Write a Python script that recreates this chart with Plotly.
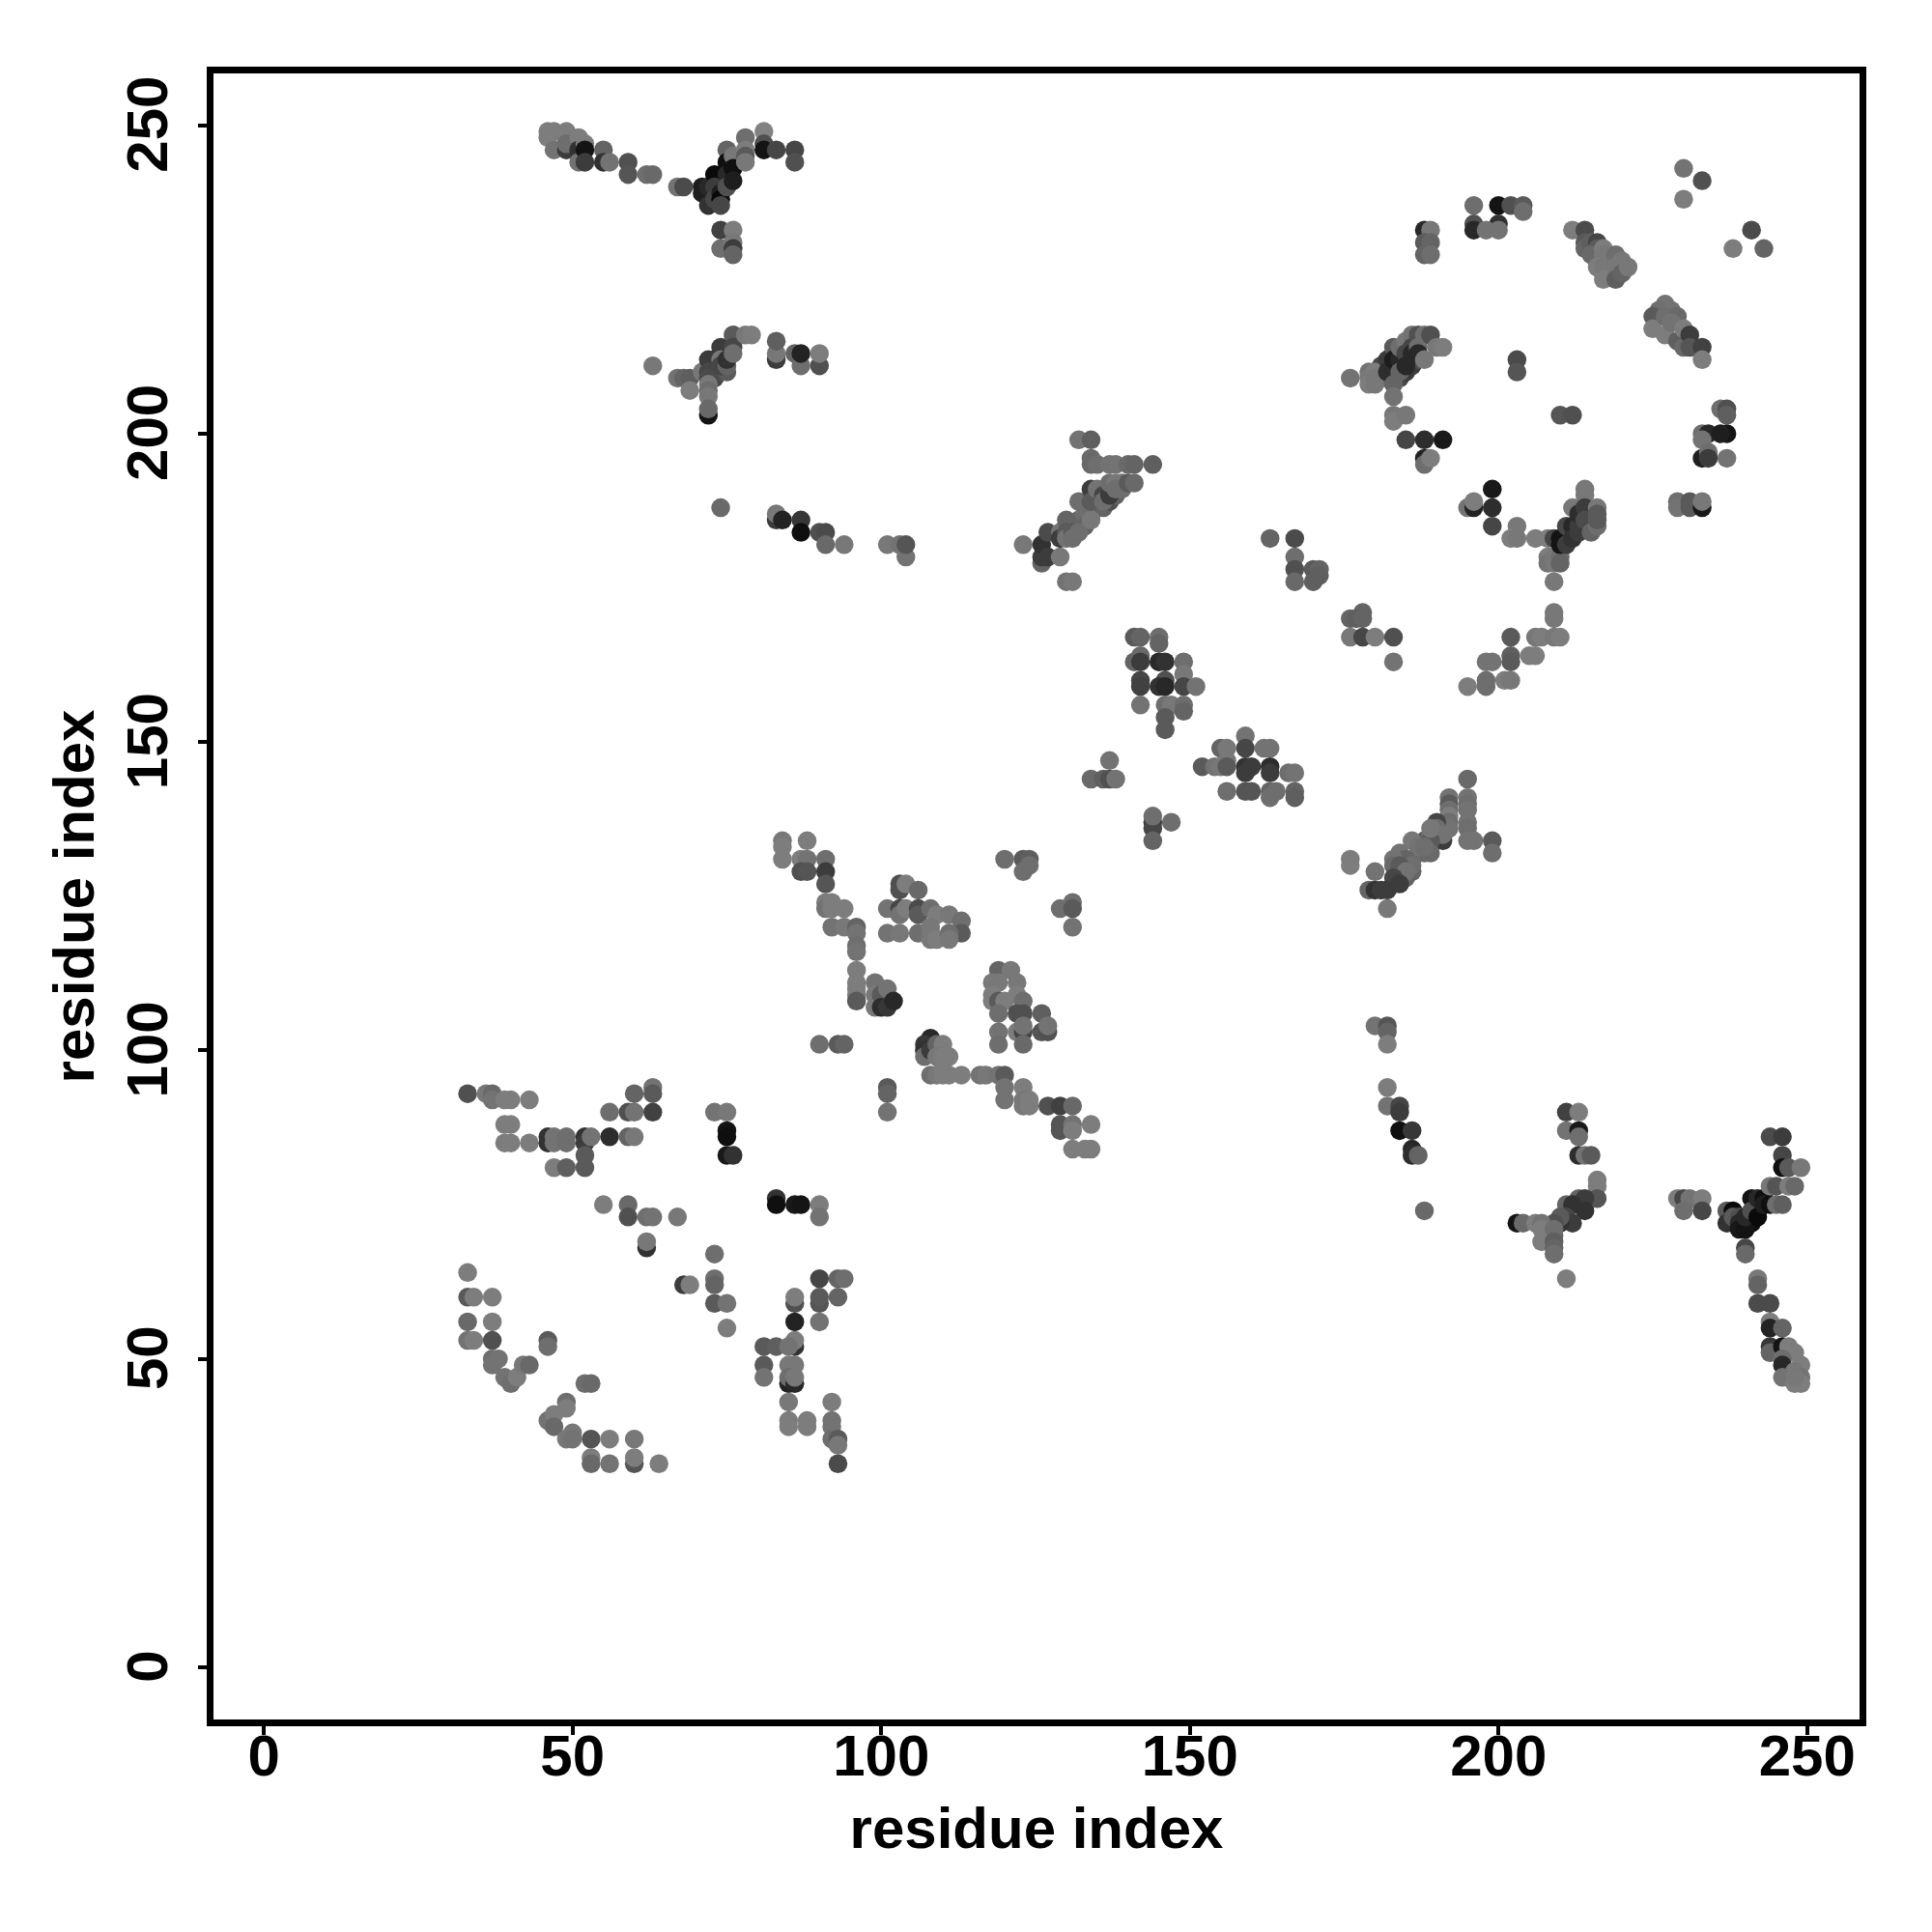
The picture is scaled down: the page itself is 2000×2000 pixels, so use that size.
import plotly.graph_objects as go

# top-left arm near (75, 240)
arm_top_x = [46,46,47,47,49,49,49,49,51,51,51,52,52,52,55,55,56,59,59,62,63,67,68,71,71,72,72,73,73,73,74,74,74,75,75,75,75,76,76,76,78,78,78,78,81,81,81,83,86,86,74,76,74,76,76,76]
arm_top_y = [249,248,246,249,249,248,246,247,248,246,244,247,246,244,246,244,244,244,242,242,242,240,240,240,239,240,237,242,240,238,239,238,237,246,244,242,240,245,243,241,248,246,245,244,249,247,246,246,246,244,233,233,230,231,230,229]
arm_top_s = [125,125,115,125,125,125,60,110,125,50,115,125,20,60,100,50,115,80,85,110,105,115,75,30,30,40,50,10,60,70,30,10,70,100,15,40,80,120,15,30,110,125,90,120,130,80,20,70,70,80,65,125,110,120,60,100]

# arm near (75, 210)
fill_210_x = [73,73,73,73,74,75,75]
fill_210_y = [212,211,210,209,210,213,210]
fill_210_s = [50,60,50,70,80,60,90]
arm_210_x = [63,67,68,69,69,71,72,72,72,72,72,72,72,72,74,74,74,75,75,76,76,76,78,79,83,83,83,86,87,87,90,90]
arm_210_y = [211,209,209,209,207,210,212,210,209,208,207,206,203,204,214,212,211,211,212,216,214,213,216,216,212,213,215,213,211,213,211,213]
arm_210_s = [120,115,100,95,125,120,60,70,75,120,110,120,20,105,60,120,70,100,50,90,70,110,120,125,60,120,95,100,110,35,80,125]

# row near y = 185
row_185_x = [74,83,83,84,87,87,90,91,91,94,101,103,104,104]
row_185_y = [188,186,187,186,186,184,184,184,182,182,182,182,180,182]
row_185_s = [105,60,120,35,55,15,80,75,105,120,120,115,115,85]

# central left block, first chain
chain_a_x = [84,84,84,88,87,88,87,88,91,91,91,91,91,92,92,94,92,94,96,96,96,96,96,96,96,96,96,99,99,99,100,100,101,101,102]
chain_a_y = [134,133,131,134,131,131,129,129,131,129,127,124,123,124,123,123,120,120,120,119,117,116,113,111,110,109,108,111,109,107,109,107,110,107,108]
chain_a_s = [120,125,125,125,125,115,80,85,110,60,85,125,115,125,125,125,115,120,100,115,110,115,125,125,125,125,90,115,120,120,90,45,115,55,40]

# central left block, second chain
block_b_x = [103,103,104,106,101,103,103,104,106,106,108,109,111,113,101,103,106,108,108,108,109,113,111,111]
block_b_y = [127,126,127,126,123,123,122,123,123,122,123,122,122,121,119,119,119,120,119,118,118,119,119,118]
block_b_s = [80,80,125,105,115,70,115,125,75,90,110,125,120,110,115,120,110,120,120,120,125,90,110,120]

side_c_x = [120,123,124,123,124,129,131,131,131]
side_c_y = [131,131,131,129,130,123,124,123,120]
side_c_s = [110,90,95,110,110,110,110,90,115]

block_d_x = [119,121,118,119,122,118,118,119,120,122,123,119,122,123,126,119,119,122,123,123,123,126,127,127]
block_d_y = [113,113,111,111,111,109,108,108,108,109,108,106,106,106,106,103,101,103,103,104,101,103,103,104]
block_d_s = [100,120,120,120,120,125,125,90,125,125,110,110,80,80,95,115,110,125,70,115,105,85,80,115]

low_e_x = [90,93,94,101,101,101]
low_e_y = [101,101,101,94,93,90]
low_e_s = [110,90,100,90,100,115]

diag_f_x = [108,107,107,107,108,109,110,109,110,111,108,109,110,110,111,113,116,117,119,120,120,120,123,123,123,124,124,127,129,131,129,129,131,131,134,131,133,134]
diag_f_y = [102,101,100,99,100,101,101,99,99,99,96,96,97,96,96,96,96,96,96,96,94,92,94,92,91,92,91,91,91,91,88,87,88,87,88,84,84,84]
diag_f_s = [40,55,50,110,60,100,125,120,125,125,110,120,125,125,125,125,115,120,115,90,115,115,125,120,120,125,125,80,65,105,85,85,115,125,125,125,125,125]

# diagonal near (132, 187)
fill_g_x = [130,131,132,133,134,135,136,133,137,138,139,139]
fill_g_y = [185,185,186,187,187,188,188,185,189,190,191,192]
fill_g_s = [100,110,105,110,100,110,100,100,80,100,110,115]
diag_g_x = [132,134,134,134,135,137,138,140,141,144,123,126,126,126,127,127,129,130,131,129,129,130,130,130,131,131,132,132,133,134,134,134,135,136,136,137,137,138,138,140,141]
diag_g_y = [199,199,196,195,195,195,195,195,195,195,182,179,180,182,184,180,180,176,176,184,183,186,184,183,184,183,184,189,188,186,191,189,191,190,189,190,192,192,191,192,192]
diag_g_s = [115,95,105,105,110,115,115,105,100,95,120,100,60,50,75,60,120,115,120,115,60,100,90,115,90,110,110,110,110,120,60,90,115,70,110,60,110,120,110,90,105]

# block near (146, 160)
block_h_x = [141,142,145,145,141,142,142,145,146,149,149,142,142,146,145,146,149,151,142,146,147,149,149,146,146]
block_h_y = [167,167,167,166,163,164,163,163,163,163,161,160,159,160,159,159,159,159,156,156,156,156,155,154,152]
block_h_s = [90,100,110,100,100,105,60,40,50,110,120,70,65,80,50,40,70,115,115,110,120,110,100,90,90]

# block near (160, 146)
block_i_x = [152,154,155,156,156,155,156,159,159,159,160,159,156,159,160,162,163,163,163,163,164,163,166,167,167,167]
block_i_y = [146,146,149,149,147,146,146,151,149,146,146,145,142,142,142,149,149,146,145,142,142,141,145,145,142,141]
block_i_s = [90,115,100,120,120,120,90,115,70,50,60,60,110,85,85,115,115,45,60,100,110,110,110,115,100,95]

small_j_x = [134,136,137,138,137,144,144,144,144,147]
small_j_y = [144,144,144,144,147,137,136,138,134,137]
small_j_s = [105,95,80,115,115,60,70,110,100,110]

# diagonal near (185, 130)
fill_k_x = [184,185,185,186,187,188,188,189,190,191,186]
fill_k_y = [128,128,130,131,132,132,134,135,135,136,129]
fill_k_s = [100,100,110,115,115,105,90,110,100,110,100]
diag_k_x = [195,192,192,195,195,195,195,195,195,196,199,199,192,192,192,192,190,190,191,191,189,189,189,186,187,188,184,185,186,183,183,184,185,183,183,184,182,180,176,176,179,180,181,182]
diag_k_y = [144,141,140,141,140,139,137,136,134,134,134,132,139,138,137,136,137,136,134,135,134,136,132,134,133,133,132,131,130,131,130,130,129,128,127,127,126,129,131,130,126,126,126,123]
diag_k_s = [105,115,90,115,110,115,115,110,115,115,90,110,110,125,110,115,70,110,60,115,90,120,105,120,115,110,115,100,110,115,105,90,115,70,70,60,60,115,125,125,100,50,60,120]

# upper right groups
ring_l_x = [196,200,202,204,204,200,196,196,198,200,188,189,188,189,188,189,230,233,230,241,238,243]
ring_l_y = [237,237,237,237,236,234,234,233,233,233,233,233,231,231,229,229,243,241,238,233,230,230]
ring_l_s = [110,20,80,90,110,50,80,40,115,115,40,120,90,100,100,110,115,80,125,75,125,100]

band_m_x = [212,214,214,214,215,216,216,215,217,217,216,217,217,219,219,219,220,220,221]
band_m_y = [233,233,231,230,231,231,230,229,230,229,227,227,225,229,227,225,228,226,227]
band_m_s = [125,75,90,100,95,70,90,105,125,120,125,120,125,110,120,95,120,100,120]

band_n_x = [227,226,225,225,228,227,229,227,228,229,230,230,231,231,233,233]
band_n_y = [221,220,219,217,220,219,219,216,218,215,217,214,216,214,214,212]
band_n_s = [115,110,90,125,115,110,105,125,115,95,125,105,60,85,65,125]

side_o_x = [236,237,237,233,234,237,236,233,233,234,234,237,229,229,231,231,233,233,203,203,210,212]
side_o_y = [204,204,203,200,200,200,200,199,196,197,196,196,189,188,189,188,188,189,212,210,203,203]
side_o_s = [110,80,95,110,40,20,30,115,30,110,60,115,110,115,90,90,25,120,75,85,85,80]

fill_p_x = [181,181,182,182,183,183,184,184,185,185,186,186,187,185,186,187,181,183]
fill_p_y = [210,211,211,209,211,209,211,209,212,210,212,211,215,214,215,212,209,210]
fill_p_s = [60,70,50,50,40,20,50,70,60,60,70,60,90,90,110,80,90,15]
cluster_p_x = [176,179,179,179,180,180,180,182,182,183,183,183,183,184,184,184,184,185,185,185,186,186,186,187,187,187,188,188,189,190,191]
cluster_p_y = [209,210,209,208,210,209,208,212,210,214,212,208,206,213,212,210,214,215,213,211,216,214,213,216,214,213,216,212,216,214,214]
cluster_p_s = [115,115,120,125,125,120,120,60,45,90,30,100,115,30,40,100,110,120,70,40,115,70,40,80,110,40,110,120,80,120,125]

group_q_x = [183,183,185,185,188,191,188,188,189,199,199,199,195,196,196,203,202,203,206]
group_q_y = [203,202,203,199,199,199,196,195,196,191,188,185,188,188,189,185,183,183,183]
group_q_s = [120,125,120,70,45,25,35,110,125,25,45,70,115,35,125,120,125,120,125]

cluster_r_x = [208,208,208,209,209,210,210,209,209,210,210,211,211,212,212,212,213,213,213,214,214,214,214,215,216,216,216,216]
cluster_r_y = [183,180,179,180,179,180,179,176,183,183,182,185,182,185,183,188,184,185,187,191,190,188,186,184,185,186,188,187]
cluster_r_s = [125,125,115,120,120,110,100,120,70,20,20,70,60,40,50,120,60,60,45,120,120,60,75,100,110,90,120,90]

ring_s_x = [163,167,167,167,167,170,171,170,171,178,176,177,178,176,178,180,183,183,202,202,202,198,199,195,198,198,201,202,205,206,206,207,209,210,209,209]
ring_s_y = [183,183,180,178,176,178,178,176,177,171,170,170,170,167,167,167,167,163,167,164,163,163,163,159,160,159,160,160,164,164,167,167,167,167,171,170]
ring_s_s = [100,75,110,80,105,90,100,95,95,100,100,95,100,120,70,125,80,115,90,95,90,115,115,125,110,110,125,120,125,125,120,125,120,125,120,120]

# lower left
low_t_x = [33,36,37,37,39,40,43,39,40,39,40,43,46,46,47,47,49,49,52,52,53,56,59,60,52,52,47,49,56,59,60,60,63,63,63,73,75,75,75,75,76]
low_t_y = [93,93,93,92,92,92,92,88,88,85,85,85,86,85,86,85,86,85,86,85,86,86,86,86,83,81,81,81,90,90,90,93,90,94,93,90,90,87,86,83,83]
low_t_s = [80,120,105,115,125,125,125,125,125,125,125,125,50,50,115,115,110,110,50,60,115,45,100,120,90,90,125,95,110,80,115,100,65,115,90,115,120,20,15,25,50]

low_u_x = [55,59,59,62,63,67,62,62,83,83,86,87,90,90,73,73,73,73,75,75,68,69]
low_u_y = [75,75,73,73,73,73,68,69,76,75,75,75,75,73,67,63,62,59,59,55,62,62]
low_u_s = [125,105,80,110,115,120,50,120,50,15,25,20,125,115,110,110,100,90,115,125,60,125]

low_v_x = [90,93,94,90,90,93,90,86,86,86,86,86,81,83,85,81,81,85,86,85,85,86,86,85,85,85,88,88,92,92,92,92,93,93,93]
low_v_y = [63,63,63,59,60,60,56,59,60,56,52,53,52,52,52,49,47,49,49,46,47,46,47,43,40,39,40,39,43,40,39,37,37,36,33]
low_v_s = [70,100,110,85,90,100,115,80,125,35,50,125,90,95,115,90,115,120,120,35,110,40,120,120,125,125,125,125,125,115,115,110,90,120,75]

low_w_x = [33,33,34,37,33,37,33,34,37,37,37,38,39,40,41,42,43,46,46,52,53,49,49,46,47,47,49,50,50,53,56,60,53,53,56,60,60,64]
low_w_y = [64,60,60,60,56,56,53,53,53,50,49,50,47,46,47,49,49,53,52,46,46,43,42,40,41,39,37,38,37,37,37,37,34,33,33,33,34,33]
low_w_s = [125,90,125,125,105,125,115,125,80,110,115,115,115,110,125,120,105,90,110,110,105,110,125,115,125,105,120,120,115,85,125,120,125,105,115,85,125,125]

# lower right
tail_x_x = [180,182,182,182,182,182,184,184,184,186,186,186,187,188]
tail_x_y = [104,104,103,101,94,91,91,90,87,87,84,83,83,74]
tail_x_s = [115,85,100,125,125,115,70,60,15,55,40,45,100,105]

arm_y_x = [211,213,211,213,213,213,214,215,216,216,216,213,214,214,211,212,211,212,210,210,209,209,203,204,206,207,207,207,209,209,209,209,211]
arm_y_y = [90,90,87,87,86,83,83,83,79,78,76,76,76,74,75,75,73,72,72,73,72,70,72,72,72,72,71,69,71,69,68,67,63]
arm_y_s = [65,125,115,25,110,45,115,90,125,125,85,100,60,50,100,50,70,60,50,90,80,100,20,105,125,115,125,125,110,95,100,110,125]

fill_z_x = [240,241,242,241]
fill_z_y = [72,72,74,73]
fill_z_s = [15,15,15,10]
arm_z_x = [229,230,231,233,230,233,237,237,238,238,239,239,239,240,240,241,241,242,242,243,243,244,245,246,244,245,247,248,244,246,246,246,247,249]
arm_z_y = [76,76,76,76,74,74,74,72,74,73,73,72,71,71,73,76,74,76,73,76,75,75,75,75,78,78,78,78,86,86,83,81,81,81]
arm_z_s = [125,70,115,125,110,70,90,50,10,90,80,40,25,20,40,20,80,40,10,15,30,15,110,95,120,85,125,105,75,60,70,15,90,120]

tail_z_x = [240,240,242,242,242,244,244,244,246,244,244,246,247,248,246,246,249,248,246,248,249,249,248]
tail_z_y = [68,67,63,62,59,59,56,55,55,52,51,52,52,51,50,49,49,48,47,46,47,46,47]
tail_z_s = [70,105,120,100,75,75,125,35,100,55,100,20,125,125,110,40,125,120,115,125,115,125,120]

groups = [
    (arm_top_x, arm_top_y, arm_top_s), (fill_210_x, fill_210_y, fill_210_s), (arm_210_x, arm_210_y, arm_210_s),
    (row_185_x, row_185_y, row_185_s), (chain_a_x, chain_a_y, chain_a_s),
    (block_b_x, block_b_y, block_b_s), (side_c_x, side_c_y, side_c_s),
    (block_d_x, block_d_y, block_d_s), (low_e_x, low_e_y, low_e_s),
    (diag_f_x, diag_f_y, diag_f_s), (fill_g_x, fill_g_y, fill_g_s), (diag_g_x, diag_g_y, diag_g_s),
    (block_h_x, block_h_y, block_h_s), (block_i_x, block_i_y, block_i_s),
    (small_j_x, small_j_y, small_j_s), (fill_k_x, fill_k_y, fill_k_s), (diag_k_x, diag_k_y, diag_k_s),
    (ring_l_x, ring_l_y, ring_l_s), (band_m_x, band_m_y, band_m_s),
    (band_n_x, band_n_y, band_n_s), (side_o_x, side_o_y, side_o_s),
    (fill_p_x, fill_p_y, fill_p_s), (cluster_p_x, cluster_p_y, cluster_p_s), (group_q_x, group_q_y, group_q_s),
    (cluster_r_x, cluster_r_y, cluster_r_s), (ring_s_x, ring_s_y, ring_s_s),
    (low_t_x, low_t_y, low_t_s), (low_u_x, low_u_y, low_u_s),
    (low_v_x, low_v_y, low_v_s), (low_w_x, low_w_y, low_w_s),
    (tail_x_x, tail_x_y, tail_x_s), (arm_y_x, arm_y_y, arm_y_s),
    (fill_z_x, fill_z_y, fill_z_s), (arm_z_x, arm_z_y, arm_z_s), (tail_z_x, tail_z_y, tail_z_s),
]

tick_vals = [0, 50, 100, 150, 200, 250]
tick_text = ["0", "50", "100", "150", "200", "250"]
axis_title = "residue index"
FONT = "Liberation Sans"

fig = go.Figure()
for gx, gy, gs in groups:
    assert len(gx) == len(gy) == len(gs), (gx[0], len(gx), len(gy), len(gs))
    fig.add_trace(go.Scatter(
        x=gx, y=gy, mode="markers", showlegend=False, hoverinfo="skip",
        marker=dict(size=19.5, line=dict(width=0),
                    color=[f"rgb({v},{v},{v})" for v in gs]),
    ))

common = dict(
    tickmode="array", tickvals=tick_vals, ticktext=tick_text,
    ticks="outside", ticklen=9, tickwidth=4, tickcolor="black",
    tickfont=dict(family=FONT, size=60, color="black", weight="bold"),
    showline=True, linewidth=7, linecolor="black", mirror=True,
    showgrid=False, zeroline=False,
)
fig.update_layout(
    width=2000, height=2000, paper_bgcolor="white", plot_bgcolor="white",
    margin=dict(l=221, r=75, t=76, b=220, pad=0),
    xaxis=dict(range=[-8.17, 258.5], ticklabelstandoff=-30,
               title=dict(text=axis_title, standoff=23,
                          font=dict(family=FONT, size=60, color="black", weight="bold")),
               **common),
    yaxis=dict(range=[-8.46, 258.4], tickangle=-90, ticklabelstandoff=8, ticklabelshift=8,
               title=dict(text=axis_title, standoff=5,
                          font=dict(family=FONT, size=60, color="black", weight="bold")),
               **common),
)
fig.write_html("out.html", config={"displayModeBar": False},
               post_script="document.body.style.margin='0';")
